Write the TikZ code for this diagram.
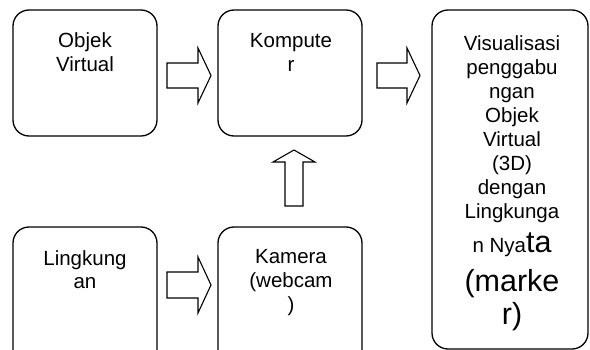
\documentclass[tikz,border=0pt]{standalone}
\usepackage{fontspec}
\setmainfont{Liberation Sans}
\newcommand\tightlines{\lineskiplimit=-100pt\relax\lineskip=0pt\relax}
\newcommand\bigtxt{\fontsize{30.5}{34}\selectfont}
\begin{document}
\begin{tikzpicture}[x=1pt,y=-1pt,
  box/.style={draw, line width=1.3pt, rounded corners=16pt, minimum width=144pt, inner sep=0pt},
  txt/.style={align=center, inner sep=0pt, anchor=base,
    font=\fontsize{20.5}{24}\selectfont, execute at begin node=\tightlines},
  blockarrow/.style={draw, line width=1.1pt, fill=white, line join=miter}]
\useasboundingbox (0,0) rectangle (590,350);
\clip (0,0) rectangle (590,350);
% boxes
\node[box, minimum height=126pt] (obj) at (85,73) {};
\node[box, minimum height=126pt] (komp) at (290,73) {};
\node[box, minimum width=156pt, minimum height=339pt] (vis) at (510,179.5) {};
\node[box, minimum height=160pt] (ling) at (85,307) {};
\node[box, minimum height=160pt] (kam) at (290,307) {};
% texts (anchor = baseline of the last line)
\node[txt] (tobj) at (85,72) {Objek\\Virtual};
\node[txt] (tkomp) at (291,72) {Kompute\\r};
\node[txt] (tling) at (85,289) {Lingkung\\an};
\node[txt] (tkam) at (291,312) {Kamera\\(webcam\\)};
\node[txt] (tvis) at (512,324) {Visualisasi\\penggabu\\ngan\\Objek\\Virtual\\(3D)\\dengan\\Lingkunga\\[10pt]n Nya{\bigtxt ta}\\[15pt]{\bigtxt (marke}\\[9pt]{\bigtxt r)}};
% block arrows
\draw[blockarrow] (167,63) -- (198,63) -- (198,48) -- (211,75.5) -- (198,103) -- (198,88) -- (167,88) -- cycle;
\draw[blockarrow] (377,63) -- (407,63) -- (407,48) -- (420,75.5) -- (407,103) -- (407,88) -- (377,88) -- cycle;
\draw[blockarrow] (285,206) -- (285,162) -- (273,162) -- (294,150) -- (315,162) -- (303,162) -- (303,206) -- cycle;
\draw[blockarrow] (167,272) -- (198,272) -- (198,257) -- (211,285) -- (198,313) -- (198,298) -- (167,298) -- cycle;
\end{tikzpicture}
\end{document}
